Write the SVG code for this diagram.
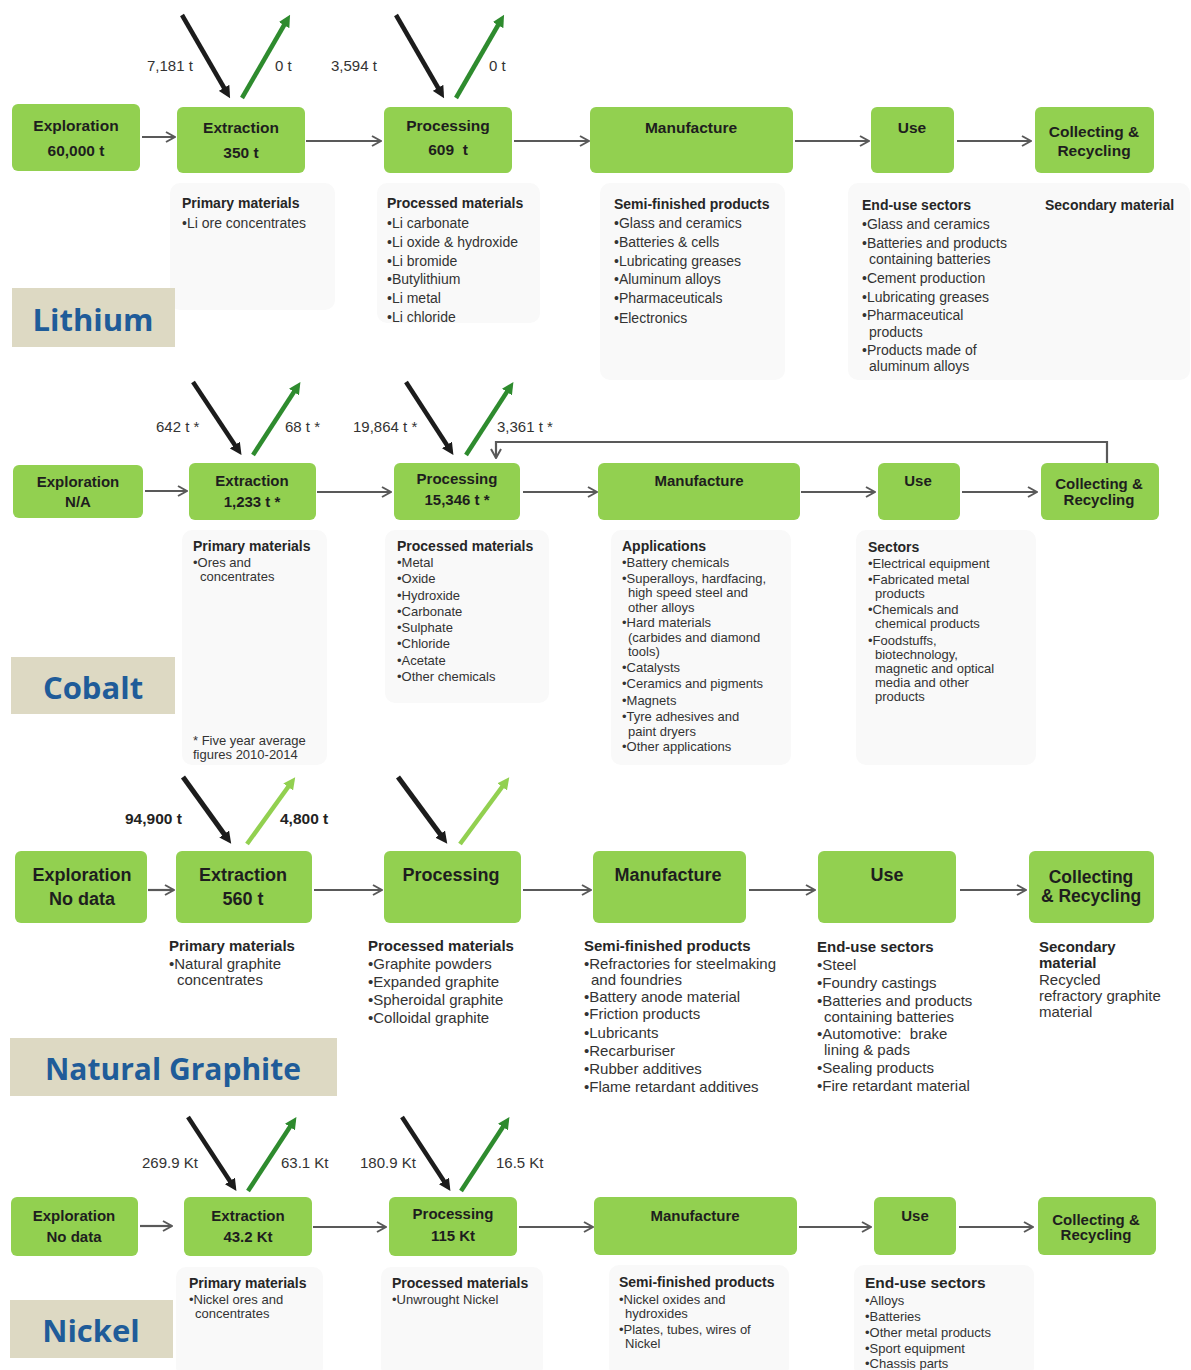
<svg xmlns="http://www.w3.org/2000/svg" width="1191" height="1370" viewBox="0 0 1191 1370">
<style>
.box{fill:#92d050}
.panel{fill:#f9f9f9}
.bt{font-family:"Liberation Sans",Arial,sans-serif;font-weight:bold;fill:#1e1e1e;text-anchor:middle;font-size:15.5px}
.g18{font-size:18px}
.h{font-family:"Liberation Sans",Arial,sans-serif;font-weight:bold;fill:#262626;font-size:14px}
.t{font-family:"Liberation Sans",Arial,sans-serif;fill:#333;font-size:14px}
.s13{font-size:13px}
.gh{font-size:15px}
.al{font-family:"Liberation Sans",Arial,sans-serif;fill:#333;font-size:15px}
.alb{font-family:"Liberation Sans",Arial,sans-serif;font-weight:bold;fill:#222;font-size:15.5px}
.lbl{fill:#ddd9c3}
.lt{font-family:"Open Sans","Noto Sans",sans-serif;font-weight:bold;fill:#1f5c99;text-anchor:middle;font-size:31px}
.conn{stroke:#595959;stroke-width:2.2;fill:none;marker-end:url(#chev)}
.in{stroke:#1c1c1c;stroke-width:4.5;marker-end:url(#hb)}
.out{stroke:#2e8b2e;stroke-width:4.5;marker-end:url(#hg)}
.outl{stroke:#92d050;stroke-width:4.5;marker-end:url(#hl)}
</style>
<defs>
<marker id="chev" viewBox="0 0 12 12" refX="11" refY="6" markerWidth="12" markerHeight="12" markerUnits="userSpaceOnUse" orient="auto">
<path d="M2,1 L11,6 L2,11" fill="none" stroke="#595959" stroke-width="2"/>
</marker>
<marker id="hb" viewBox="0 0 10 10" refX="4" refY="5" markerWidth="12" markerHeight="12" markerUnits="userSpaceOnUse" orient="auto">
<path d="M0,0 L10,5 L0,10 z" fill="#1c1c1c"/>
</marker>
<marker id="hg" viewBox="0 0 10 10" refX="4" refY="5" markerWidth="12" markerHeight="12" markerUnits="userSpaceOnUse" orient="auto">
<path d="M0,0 L10,5 L0,10 z" fill="#2e8b2e"/>
</marker>
<marker id="hl" viewBox="0 0 10 10" refX="4" refY="5" markerWidth="12" markerHeight="12" markerUnits="userSpaceOnUse" orient="auto">
<path d="M0,0 L10,5 L0,10 z" fill="#92d050"/>
</marker>
</defs>
<rect width="1191" height="1370" fill="#ffffff"/>

<!-- ================= LITHIUM ================= -->
<g id="li-panels">
<rect class="panel" x="170" y="183" width="165" height="127" rx="10"/>
<rect class="panel" x="377" y="183" width="163" height="140" rx="10"/>
<rect class="panel" x="600" y="183" width="185" height="197" rx="10"/>
<rect class="panel" x="848" y="183" width="342" height="197" rx="10"/>
</g>
<g id="li-label"><rect class="lbl" x="12" y="288" width="163" height="59"/><text class="lt" x="93" y="331">Lithium</text></g>
<g id="li-exploration"><rect class="box" x="12" y="104" width="128" height="67" rx="6"/><text class="bt" x="76" y="131">Exploration</text><text class="bt" x="76" y="156">60,000 t</text></g>
<g id="li-extraction"><rect class="box" x="177" y="107" width="128" height="66" rx="6"/><text class="bt" x="241" y="133">Extraction</text><text class="bt" x="241" y="158">350 t</text></g>
<g id="li-processing"><rect class="box" x="384" y="107" width="128" height="66" rx="6"/><text class="bt" x="448" y="131">Processing</text><text class="bt" x="448" y="155" xml:space="preserve">609  t</text></g>
<g id="li-manufacture"><rect class="box" x="590" y="107" width="203" height="66" rx="6"/><text class="bt" x="691" y="133">Manufacture</text></g>
<g id="li-use"><rect class="box" x="871" y="107" width="83" height="66" rx="6"/><text class="bt" x="912" y="133">Use</text></g>
<g id="li-collecting"><rect class="box" x="1035" y="107" width="119" height="66" rx="6"/><text class="bt" x="1094" y="137">Collecting &amp;</text><text class="bt" x="1094" y="156">Recycling</text></g>
<g id="li-info">
<text class="h" x="182" y="208">Primary materials</text>
<text class="t" x="182" y="228">•Li ore concentrates</text>
<text class="h" x="387" y="208">Processed materials</text>
<text class="t"><tspan x="387" y="228">•Li carbonate</tspan><tspan x="387" y="247">•Li oxide &amp; hydroxide</tspan><tspan x="387" y="266">•Li bromide</tspan><tspan x="387" y="284">•Butylithium</tspan><tspan x="387" y="303">•Li metal</tspan><tspan x="387" y="322">•Li chloride</tspan></text>
<text class="h" x="614" y="209">Semi-finished products</text>
<text class="t"><tspan x="614" y="228">•Glass and ceramics</tspan><tspan x="614" y="247">•Batteries &amp; cells</tspan><tspan x="614" y="266">•Lubricating greases</tspan><tspan x="614" y="284">•Aluminum alloys</tspan><tspan x="614" y="303">•Pharmaceuticals</tspan><tspan x="614" y="323">•Electronics</tspan></text>
<text class="h" x="862" y="210">End-use sectors</text>
<text class="t"><tspan x="862" y="229">•Glass and ceramics</tspan><tspan x="862" y="248">•Batteries and products</tspan><tspan x="869" y="264">containing batteries</tspan><tspan x="862" y="283">•Cement production</tspan><tspan x="862" y="302">•Lubricating greases</tspan><tspan x="862" y="320">•Pharmaceutical</tspan><tspan x="869" y="337">products</tspan><tspan x="862" y="355">•Products made of</tspan><tspan x="869" y="371">aluminum alloys</tspan></text>
<text class="h" x="1045" y="210">Secondary material</text>
</g>
<g id="li-flow-labels">
<text class="al" x="147" y="71">7,181 t</text><text class="al" x="275" y="71">0 t</text>
<text class="al" x="331" y="71">3,594 t</text><text class="al" x="489" y="71">0 t</text>
</g>

<!-- ================= COBALT ================= -->
<g id="co-panels">
<rect class="panel" x="182" y="530" width="145" height="235" rx="10"/>
<rect class="panel" x="385" y="530" width="164" height="173" rx="10"/>
<rect class="panel" x="611" y="530" width="180" height="235" rx="10"/>
<rect class="panel" x="856" y="530" width="180" height="235" rx="10"/>
</g>
<g id="co-label"><rect class="lbl" x="11" y="657" width="164" height="57"/><text class="lt" x="93" y="699">Cobalt</text></g>
<g id="co-exploration"><rect class="box" x="13" y="465" width="130" height="53" rx="6"/><text class="bt" x="78" y="487" style="font-size:15px">Exploration</text><text class="bt" x="78" y="507" style="font-size:15px">N/A</text></g>
<g id="co-extraction"><rect class="box" x="189" y="463" width="127" height="57" rx="6"/><text class="bt" x="252" y="486" style="font-size:15px">Extraction</text><text class="bt" x="252" y="507" style="font-size:15px">1,233 t *</text></g>
<g id="co-processing"><rect class="box" x="394" y="463" width="126" height="57" rx="6"/><text class="bt" x="457" y="484" style="font-size:15px">Processing</text><text class="bt" x="457" y="505" style="font-size:15px">15,346 t *</text></g>
<g id="co-manufacture"><rect class="box" x="598" y="463" width="202" height="57" rx="6"/><text class="bt" x="699" y="486" style="font-size:15px">Manufacture</text></g>
<g id="co-use"><rect class="box" x="878" y="463" width="82" height="57" rx="6"/><text class="bt" x="918" y="486" style="font-size:15px">Use</text></g>
<g id="co-collecting"><rect class="box" x="1041" y="463" width="118" height="57" rx="6"/><text class="bt" x="1099" y="489" style="font-size:15px">Collecting &amp;</text><text class="bt" x="1099" y="505" style="font-size:15px">Recycling</text></g>
<g id="co-info">
<text class="h" x="193" y="551">Primary materials</text>
<text class="t s13"><tspan x="193" y="567">•Ores and</tspan><tspan x="200" y="581">concentrates</tspan></text>
<text class="t s13"><tspan x="193" y="745">* Five year average</tspan><tspan x="193" y="759">figures 2010-2014</tspan></text>
<text class="h" x="397" y="551">Processed materials</text>
<text class="t s13"><tspan x="397" y="567">•Metal</tspan><tspan x="397" y="583">•Oxide</tspan><tspan x="397" y="600">•Hydroxide</tspan><tspan x="397" y="616">•Carbonate</tspan><tspan x="397" y="632">•Sulphate</tspan><tspan x="397" y="648">•Chloride</tspan><tspan x="397" y="665">•Acetate</tspan><tspan x="397" y="681">•Other chemicals</tspan></text>
<text class="h" x="622" y="551">Applications</text>
<text class="t s13"><tspan x="622" y="567">•Battery chemicals</tspan><tspan x="622" y="583">•Superalloys, hardfacing,</tspan><tspan x="628" y="597">high speed steel and</tspan><tspan x="628" y="612">other alloys</tspan><tspan x="622" y="627">•Hard materials</tspan><tspan x="628" y="642">(carbides and diamond</tspan><tspan x="628" y="656">tools)</tspan><tspan x="622" y="672">•Catalysts</tspan><tspan x="622" y="688">•Ceramics and pigments</tspan><tspan x="622" y="705">•Magnets</tspan><tspan x="622" y="721">•Tyre adhesives and</tspan><tspan x="628" y="736">paint dryers</tspan><tspan x="622" y="751">•Other applications</tspan></text>
<text class="h" x="868" y="552">Sectors</text>
<text class="t s13"><tspan x="868" y="568">•Electrical equipment</tspan><tspan x="868" y="584">•Fabricated metal</tspan><tspan x="875" y="598">products</tspan><tspan x="868" y="614">•Chemicals and</tspan><tspan x="875" y="628">chemical products</tspan><tspan x="868" y="645">•Foodstuffs,</tspan><tspan x="875" y="659">biotechnology,</tspan><tspan x="875" y="673">magnetic and optical</tspan><tspan x="875" y="687">media and other</tspan><tspan x="875" y="701">products</tspan></text>
</g>
<g id="co-flow-labels">
<text class="al" x="156" y="432">642 t *</text><text class="al" x="285" y="432">68 t *</text>
<text class="al" x="353" y="432">19,864 t *</text><text class="al" x="497" y="432">3,361 t *</text>
</g>

<!-- ================= NATURAL GRAPHITE ================= -->
<g id="gr-label"><rect class="lbl" x="10" y="1038" width="327" height="58"/><text class="lt" x="173" y="1080" style="font-size:30px">Natural Graphite</text></g>
<g id="gr-exploration"><rect class="box" x="15" y="851" width="132" height="72" rx="6"/><text class="bt g18" x="82" y="881">Exploration</text><text class="bt g18" x="82" y="905">No data</text></g>
<g id="gr-extraction"><rect class="box" x="176" y="851" width="136" height="72" rx="6"/><text class="bt g18" x="243" y="881">Extraction</text><text class="bt g18" x="243" y="905">560 t</text></g>
<g id="gr-processing"><rect class="box" x="384" y="851" width="137" height="72" rx="6"/><text class="bt g18" x="451" y="881">Processing</text></g>
<g id="gr-manufacture"><rect class="box" x="593" y="851" width="153" height="72" rx="6"/><text class="bt g18" x="668" y="881">Manufacture</text></g>
<g id="gr-use"><rect class="box" x="818" y="851" width="138" height="72" rx="6"/><text class="bt g18" x="887" y="881">Use</text></g>
<g id="gr-collecting"><rect class="box" x="1029" y="851" width="125" height="72" rx="6"/><text class="bt" x="1091" y="883" style="font-size:17.5px">Collecting</text><text class="bt" x="1091" y="902" style="font-size:17.5px">&amp; Recycling</text></g>
<g id="gr-info">
<text class="h gh" x="169" y="951">Primary materials</text>
<text class="t gh"><tspan x="169" y="969">•Natural graphite</tspan><tspan x="177" y="985">concentrates</tspan></text>
<text class="h gh" x="368" y="951">Processed materials</text>
<text class="t gh"><tspan x="368" y="969">•Graphite powders</tspan><tspan x="368" y="987">•Expanded graphite</tspan><tspan x="368" y="1005">•Spheroidal graphite</tspan><tspan x="368" y="1023">•Colloidal graphite</tspan></text>
<text class="h gh" x="584" y="951">Semi-finished products</text>
<text class="t gh"><tspan x="584" y="969">•Refractories for steelmaking</tspan><tspan x="591" y="985">and foundries</tspan><tspan x="584" y="1002">•Battery anode material</tspan><tspan x="584" y="1019">•Friction products</tspan><tspan x="584" y="1038">•Lubricants</tspan><tspan x="584" y="1056">•Recarburiser</tspan><tspan x="584" y="1074">•Rubber additives</tspan><tspan x="584" y="1092">•Flame retardant additives</tspan></text>
<text class="h gh" x="817" y="952">End-use sectors</text>
<text class="t gh"><tspan x="817" y="970">•Steel</tspan><tspan x="817" y="988">•Foundry castings</tspan><tspan x="817" y="1006">•Batteries and products</tspan><tspan x="824" y="1022">containing batteries</tspan><tspan x="817" y="1039" xml:space="preserve">•Automotive:  brake</tspan><tspan x="824" y="1055">lining &amp; pads</tspan><tspan x="817" y="1073">•Sealing products</tspan><tspan x="817" y="1091">•Fire retardant material</tspan></text>
<text class="h gh"><tspan x="1039" y="952">Secondary</tspan><tspan x="1039" y="968">material</tspan></text>
<text class="t gh"><tspan x="1039" y="985">Recycled</tspan><tspan x="1039" y="1001">refractory graphite</tspan><tspan x="1039" y="1017">material</tspan></text>
</g>
<g id="gr-flow-labels">
<text class="alb" x="125" y="824">94,900 t</text><text class="alb" x="280" y="824">4,800 t</text>
</g>

<!-- ================= NICKEL ================= -->
<g id="ni-panels">
<rect class="panel" x="176" y="1267" width="147" height="110" rx="10"/>
<rect class="panel" x="381" y="1267" width="162" height="110" rx="10"/>
<rect class="panel" x="609" y="1265" width="180" height="112" rx="10"/>
<rect class="panel" x="854" y="1265" width="180" height="112" rx="10"/>
</g>
<g id="ni-label"><rect class="lbl" x="10" y="1300" width="163" height="58"/><text class="lt" x="91" y="1342">Nickel</text></g>
<g id="ni-exploration"><rect class="box" x="11" y="1197" width="127" height="59" rx="6"/><text class="bt" x="74" y="1221" style="font-size:15px">Exploration</text><text class="bt" x="74" y="1242" style="font-size:15px">No data</text></g>
<g id="ni-extraction"><rect class="box" x="184" y="1197" width="128" height="59" rx="6"/><text class="bt" x="248" y="1221" style="font-size:15px">Extraction</text><text class="bt" x="248" y="1242" style="font-size:15px">43.2 Kt</text></g>
<g id="ni-processing"><rect class="box" x="389" y="1197" width="128" height="59" rx="6"/><text class="bt" x="453" y="1219" style="font-size:15px">Processing</text><text class="bt" x="453" y="1241" style="font-size:15px">115 Kt</text></g>
<g id="ni-manufacture"><rect class="box" x="594" y="1197" width="203" height="58" rx="6"/><text class="bt" x="695" y="1221" style="font-size:15px">Manufacture</text></g>
<g id="ni-use"><rect class="box" x="874" y="1197" width="82" height="58" rx="6"/><text class="bt" x="915" y="1221" style="font-size:15px">Use</text></g>
<g id="ni-collecting"><rect class="box" x="1038" y="1197" width="118" height="58" rx="6"/><text class="bt" x="1096" y="1225" style="font-size:15px">Collecting &amp;</text><text class="bt" x="1096" y="1240" style="font-size:15px">Recycling</text></g>
<g id="ni-info">
<text class="h" x="189" y="1288">Primary materials</text>
<text class="t s13"><tspan x="189" y="1304">•Nickel ores and</tspan><tspan x="195" y="1318">concentrates</tspan></text>
<text class="h" x="392" y="1288">Processed materials</text>
<text class="t s13" x="392" y="1304">•Unwrought Nickel</text>
<text class="h" x="619" y="1287">Semi-finished products</text>
<text class="t s13"><tspan x="619" y="1304">•Nickel oxides and</tspan><tspan x="625" y="1318">hydroxides</tspan><tspan x="619" y="1334">•Plates, tubes, wires of</tspan><tspan x="625" y="1348">Nickel</tspan></text>
<text class="h" x="865" y="1288" style="font-size:15.5px">End-use sectors</text>
<text class="t s13"><tspan x="865" y="1305">•Alloys</tspan><tspan x="865" y="1321">•Batteries</tspan><tspan x="865" y="1337">•Other metal products</tspan><tspan x="865" y="1353">•Sport equipment</tspan><tspan x="865" y="1368">•Chassis parts</tspan></text>
</g>
<g id="ni-flow-labels">
<text class="al" x="142" y="1168">269.9 Kt</text><text class="al" x="281" y="1168">63.1 Kt</text>
<text class="al" x="360" y="1168">180.9 Kt</text><text class="al" x="496" y="1168">16.5 Kt</text>
</g>

<!-- ================= CONNECTORS ================= -->
<g id="connectors">
<line class="conn" x1="142" y1="137" x2="175" y2="137"/>
<line class="conn" x1="306" y1="141" x2="381" y2="141"/>
<line class="conn" x1="514" y1="141" x2="589" y2="141"/>
<line class="conn" x1="795" y1="141" x2="869" y2="141"/>
<line class="conn" x1="957" y1="141" x2="1031" y2="141"/>
<line class="in" x1="182" y1="15" x2="226.5" y2="92"/>
<line class="out" x1="242" y1="98" x2="286.5" y2="21"/>
<line class="in" x1="396" y1="15" x2="440.5" y2="92"/>
<line class="out" x1="456" y1="98" x2="500.5" y2="21"/>

<line class="conn" x1="145" y1="491" x2="187" y2="491"/>
<line class="conn" x1="317" y1="492" x2="391" y2="492"/>
<line class="conn" x1="523" y1="492" x2="597" y2="492"/>
<line class="conn" x1="801" y1="492" x2="875" y2="492"/>
<line class="conn" x1="962" y1="492" x2="1037" y2="492"/>
<path class="conn" d="M1107,463 V442 H496 V458"/>
<line class="in" x1="193" y1="382" x2="237.5" y2="449"/>
<line class="out" x1="253" y1="455" x2="296.5" y2="388"/>
<line class="in" x1="406" y1="382" x2="449.5" y2="449"/>
<line class="out" x1="466" y1="455" x2="509.5" y2="388"/>

<line class="conn" x1="148" y1="890" x2="174" y2="890"/>
<line class="conn" x1="314" y1="890" x2="382" y2="890"/>
<line class="conn" x1="523" y1="890" x2="591" y2="890"/>
<line class="conn" x1="749" y1="890" x2="815" y2="890"/>
<line class="conn" x1="960" y1="890" x2="1026" y2="890"/>
<line class="in" x1="183" y1="777" x2="227" y2="838" style="stroke-width:5"/>
<line class="outl" x1="247" y1="844" x2="291" y2="783"/>
<line class="in" x1="398" y1="777" x2="443" y2="838" style="stroke-width:5"/>
<line class="outl" x1="460" y1="844" x2="505" y2="783"/>

<line class="conn" x1="140" y1="1226" x2="172" y2="1226"/>
<line class="conn" x1="313" y1="1227" x2="386" y2="1227"/>
<line class="conn" x1="519" y1="1227" x2="593" y2="1227"/>
<line class="conn" x1="799" y1="1227" x2="871" y2="1227"/>
<line class="conn" x1="959" y1="1227" x2="1033" y2="1227"/>
<line class="in" x1="188" y1="1117" x2="232.5" y2="1185"/>
<line class="out" x1="248" y1="1191" x2="292.5" y2="1123"/>
<line class="in" x1="402" y1="1117" x2="446.5" y2="1185"/>
<line class="out" x1="461" y1="1191" x2="505.5" y2="1123"/>
</g>
</svg>
